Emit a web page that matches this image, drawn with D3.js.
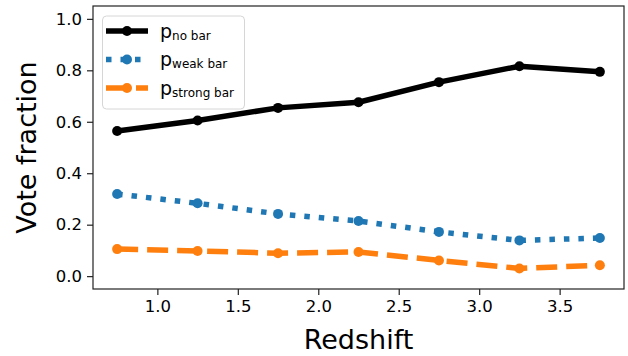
<!DOCTYPE html>
<html>
<head>
<meta charset="utf-8">
<script src="https://cdn.jsdelivr.net/npm/d3@7"></script>
<style>
  body { margin: 0; background: #fff; }
  text { font-family: "DejaVu Sans", sans-serif; fill: #000; }
</style>
</head>
<body>
<svg id="chart" width="628" height="356"></svg>
<script>
// redshift bins
var redshift = [0.75, 1.25, 1.75, 2.25, 2.75, 3.25, 3.75];
var pNoBar = [0.564, 0.605, 0.654, 0.676, 0.754, 0.816, 0.794];
var pWeakBar = [0.319, 0.283, 0.242, 0.214, 0.172, 0.139, 0.148];
var pStrongBar = [0.105, 0.098, 0.089, 0.094, 0.061, 0.030, 0.042];

var xTicks = [1.0, 1.5, 2.0, 2.5, 3.0, 3.5];
var yTicks = [0.0, 0.2, 0.4, 0.6, 0.8, 1.0];

var series = [
  {name: "no bar", values: pNoBar, color: "#000000", dash: null},
  {name: "weak bar", values: pWeakBar, color: "#1f77b4", dash: "5.5,9"},
  {name: "strong bar", values: pStrongBar, color: "#ff7f0e", dash: "21,9"}
];

var W = 628, H = 356;
var margin = {top: 6, right: 4, bottom: 67, left: 93};
var plotW = W - margin.left - margin.right;
var plotH = H - margin.top - margin.bottom;

var svg = d3.select("#chart");
var g = svg.append("g")
           .attr("transform", "translate(" + margin.left + "," + margin.top + ")");

var x = d3.scaleLinear().domain([0.6, 3.9]).range([0, plotW]);
var y = d3.scaleLinear().domain([-0.05, 1.05]).range([plotH, 0]);

//axes
var xAxis = g.append("g")
             .attr("transform", "translate(0," + plotH + ")")
             .call(d3.axisBottom(x).tickValues(xTicks).tickFormat(d3.format(".1f")).tickSizeOuter(0).tickSize(6).tickPadding(5));
var yAxis = g.append("g")
             .call(d3.axisLeft(y).tickValues(yTicks).tickFormat(d3.format(".1f")).tickSizeOuter(0).tickSize(6).tickPadding(5));

[xAxis, yAxis].forEach(function(a) {
    a.select(".domain").remove();
    a.selectAll(".tick line").attr("stroke", "#222").attr("stroke-width", 1.2);
    a.selectAll(".tick text")
     .attr("font-family", "DejaVu Sans")
     .attr("font-size", 16.5)
     .attr("fill", "#222");
});

//frame
g.append("rect")
 .attr("x", 0).attr("y", 0)
 .attr("width", plotW).attr("height", plotH)
 .attr("fill", "none")
 .attr("stroke", "#222")
 .attr("stroke-width", 1.2);

//lines + markers
var line = d3.line()
             .x(function(d, i) { return x(redshift[i]); })
             .y(function(d) { return y(d); });

series.forEach(function(s) {
    g.append("path")
     .attr("d", line(s.values))
     .attr("fill", "none")
     .attr("stroke", s.color)
     .attr("stroke-width", 5.5)
     .attr("stroke-linejoin", "round")
     .attr("stroke-dasharray", s.dash);
    g.selectAll(null)
     .data(s.values)
     .enter()
     .append("circle")
     .attr("cx", function(d, i) { return x(redshift[i]); })
     .attr("cy", function(d) { return y(d); })
     .attr("r", 5)
     .attr("fill", s.color);
});

//axis labels
svg.append("text")
   .attr("x", margin.left + plotW / 2)
   .attr("y", 349)
   .attr("text-anchor", "middle")
   .attr("font-size", 27)
   .text("Redshift");

svg.append("text")
   .attr("transform", "translate(36," + (margin.top + plotH / 2) + ") rotate(-90)")
   .attr("text-anchor", "middle")
   .attr("font-size", 27)
   .text("Vote fraction");

//legend
var leg = svg.append("g");
leg.append("rect")
   .attr("x", 102.5).attr("y", 16)
   .attr("width", 142).attr("height", 93)
   .attr("rx", 4)
   .attr("fill", "#fff")
   .attr("fill-opacity", 0.8)
   .attr("stroke", "#d6d6d6")
   .attr("stroke-width", 1);

series.forEach(function(s, i) {
    var ry = 31 + i * 28.5;
    leg.append("line")
       .attr("x1", 106).attr("x2", 148)
       .attr("y1", ry).attr("y2", ry)
       .attr("stroke", s.color)
       .attr("stroke-width", 5.5)
       .attr("stroke-dasharray", s.dash);
    leg.append("circle")
       .attr("cx", 127).attr("cy", ry)
       .attr("r", 5)
       .attr("fill", s.color);
    var t = leg.append("text")
               .attr("x", 160)
               .attr("y", ry + 6.5)
               .attr("font-size", 19);
    t.append("tspan").text("p");
    t.append("tspan")
     .attr("dy", 2)
     .attr("font-size", 12)
     .text(s.name);
});
</script>
</body>
</html>
